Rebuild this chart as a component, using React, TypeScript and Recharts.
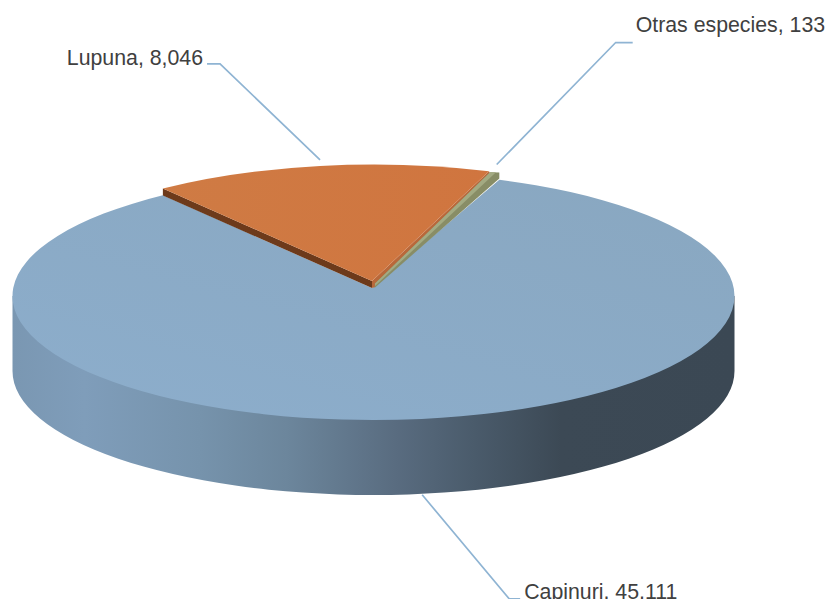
import { PieChart, Pie } from "recharts";

const names = ["Capinuri", "Lupuna", "Otras especies"];
const values = [45111, 8046, 133];
const fills = ["#8baac6", "#cf7a42", "#a3aa82"];

const data = names.map((name, i) => ({ name, value: values[i], fill: fills[i] }));

const FONT = "'Liberation Sans', Arial, sans-serif";
const CX = 373.5;
const CY = 296;
const RX = 361;
const RY = 124;
const WALL = 75;

const pt = (cx: number, cy: number, rx: number, ry: number, deg: number) => {
  const a = (deg * Math.PI) / 180;
  return { x: cx + rx * Math.cos(a), y: cy - ry * Math.sin(a) };
};

const poly = (pts: number[][]) => pts.map((p) => p.join(",")).join(" ");

function Slice(props: any) {
  const { cx, cy, outerRadius, startAngle, endAngle, index } = props;
  const rx = outerRadius;

  if (index === 0) {
    // big slice, its thin neighbour eats a bit more than its real angle
    const s = pt(cx, cy, rx, RY, startAngle - 0.84);
    const e = pt(cx, cy, rx, RY, endAngle);
    const l = pt(cx, cy, rx, RY, 180);
    const r = pt(cx, cy, rx, RY, 0);
    return (
      <g>
        <path
          d={`M${l.x},${l.y} L${r.x},${r.y} L${r.x},${r.y + WALL} A${rx},${RY} 0 0 1 ${l.x},${l.y + WALL} Z`}
          fill="url(#wallGrad)"
        />
        <path
          d={`M${cx - 1.5},${cy - 8} L${s.x},${s.y} A${rx},${RY} 0 1 1 ${e.x},${e.y} Z`}
          fill="url(#topGrad)"
        />
      </g>
    );
  }

  if (index === 1) {
    const ax = cx - 1.5;
    const ay = cy - 15;
    const top = cy - 4;
    const ry = 127.5;
    const s = pt(cx, top, rx, ry, startAngle);
    const e = pt(cx, top, rx, ry, endAngle);
    return (
      <g>
        <polygon
          points={poly([
            [s.x, s.y],
            [ax, ay],
            [ax, ay + 7],
            [s.x, s.y + 7],
          ])}
          fill="#6d3a1b"
        />
        <polygon
          points={poly([
            [ax, ay],
            [e.x, e.y],
            [e.x + 1, e.y + 2],
            [ax + 3, ay + 6],
            [ax, ay + 7],
          ])}
          fill="#b9683a"
        />
        <path
          d={`M${ax},${ay} L${s.x},${s.y} A${rx},${ry} 0 0 1 ${e.x},${e.y} Z`}
          fill="url(#orangeGrad)"
        />
      </g>
    );
  }

  const top = cy - 4;
  const s = pt(cx, top, rx, 127.5, startAngle);
  const e = pt(cx, top, rx, 127.5, endAngle - 0.84);
  return (
    <g>
      <polygon
        points={poly([
          [cx + 1.5, cy - 12.5],
          [s.x + 1, s.y + 1],
          [e.x, e.y],
          [e.x, e.y + 6],
          [cx + 1, cy - 8],
        ])}
        fill="#888d66"
      />
      <polygon
        points={poly([
          [cx + 1.5, cy - 12.5],
          [s.x + 1, s.y + 1],
          [s.x + 7, s.y + 1],
          [cx + 1.5, cy - 10],
        ])}
        fill="#a3aa82"
      />
    </g>
  );
}

// elbow and text placement relative to where the leader leaves the slice
const leaders: Record<string, any> = {
  Capinuri: { gap: -1, elbow: [87, 104], end: [98, 104], text: [102, 104], anchor: "start" },
  Lupuna: { gap: 6, elbow: [-100, -96], end: [-113, -96], text: [-117, -95], anchor: "end" },
  "Otras especies": { gap: 7, elbow: [119, -122], end: [136, -122], text: [139, -133], anchor: "start" },
};

function SliceLabel(props: any) {
  const { cx, cy, outerRadius, midAngle, name, value } = props;
  const cfg = leaders[name];
  if (!cfg) return null;
  const front = name === "Capinuri";
  const p = pt(cx, front ? cy + WALL : cy - 4, outerRadius, front ? RY : 127.5, midAngle);
  const x0 = p.x + (name === "Otras especies" ? 5 : front ? -2 : 0);
  const y0 = p.y - cfg.gap;
  return (
    <g>
      <polyline
        points={poly([
          [x0, y0],
          [x0 + cfg.elbow[0], y0 + cfg.elbow[1]],
          [x0 + cfg.end[0], y0 + cfg.end[1]],
        ])}
        fill="none"
        stroke="#8fb4d3"
        strokeWidth={1.7}
      />
      <text
        x={x0 + cfg.text[0]}
        y={y0 + cfg.text[1]}
        textAnchor={cfg.anchor}
        fontFamily={FONT}
        fontSize={21.3}
        fill="#404040"
      >
        {`${name}, ${value.toLocaleString("en-US")}`}
      </text>
    </g>
  );
}

export default function App() {
  return (
    <div style={{ position: "absolute", left: 0, top: 0, width: 828, height: 599, overflow: "hidden", background: "#fff" }}>
      <PieChart width={828} height={599} margin={{ top: 0, right: 0, bottom: 0, left: 0 }}>
        <defs>
          <linearGradient id="wallGrad" gradientUnits="userSpaceOnUse" x1={12} y1={0} x2={735} y2={0}>
            <stop offset="0" stopColor="#7a97b2" />
            <stop offset="0.1" stopColor="#7f9dba" />
            <stop offset="0.26" stopColor="#7693ac" />
            <stop offset="0.38" stopColor="#6c869c" />
            <stop offset="0.53" stopColor="#596c80" />
            <stop offset="0.64" stopColor="#4a5b6b" />
            <stop offset="0.76" stopColor="#3c4955" />
            <stop offset="1" stopColor="#3b4854" />
          </linearGradient>
          <linearGradient id="topGrad" x1="1" y1="0" x2="0.2" y2="1">
            <stop offset="0" stopColor="#89a7c0" />
            <stop offset="1" stopColor="#8cadcb" />
          </linearGradient>
          <linearGradient id="orangeGrad" x1="0" y1="0" x2="1" y2="0">
            <stop offset="0" stopColor="#cf7b44" />
            <stop offset="1" stopColor="#d0753f" />
          </linearGradient>
        </defs>
        <Pie
          data={data}
          dataKey="value"
          nameKey="name"
          cx={CX}
          cy={CY}
          innerRadius={0}
          outerRadius={RX}
          startAngle={70.44}
          endAngle={-289.56}
          paddingAngle={0}
          stroke="none"
          shape={Slice}
          label={SliceLabel}
          labelLine={false}
          isAnimationActive={false}
        />
      </PieChart>
    </div>
  );
}
